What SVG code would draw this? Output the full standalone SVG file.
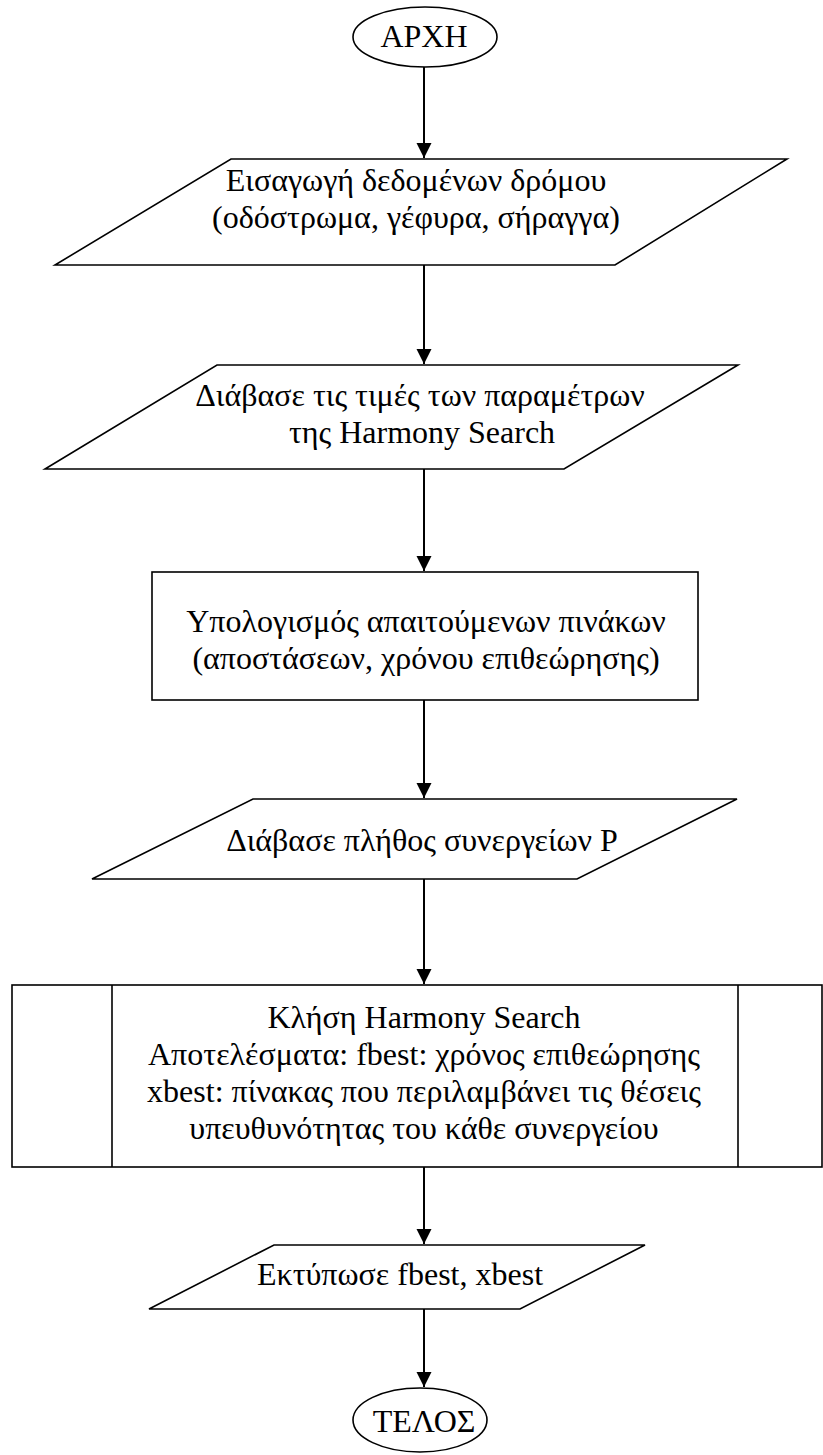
<svg xmlns="http://www.w3.org/2000/svg" width="823" height="1455" viewBox="0 0 823 1455">
<style>
.s{fill:#fff;stroke:#000;stroke-width:1.6}
.t{font-family:"Liberation Serif","Times New Roman",serif;font-size:32px;fill:#000;text-anchor:middle}
.c{stroke:#000;stroke-width:2;fill:none}
</style>
<defs>
<marker id="ah" markerUnits="userSpaceOnUse" markerWidth="16" markerHeight="16" viewBox="0 0 16 16" refX="15" refY="8" orient="auto">
<path d="M0,0.5 L15,8 L0,15.5 Z" fill="#000"/>
</marker>
</defs>
<g id="start">
<ellipse class="s" cx="425" cy="37" rx="72" ry="30"/>
<text class="t" x="424" y="47">ΑΡΧΗ</text>
</g>
<g id="input-road">
<polygon class="s" points="231,159 787,159 615,265 55,265"/>
<text class="t" x="416" y="191">Εισαγωγή δεδομένων δρόμου</text>
<text class="t" x="416" y="228">(οδόστρωμα, γέφυρα, σήραγγα)</text>
</g>
<g id="read-params">
<polygon class="s" points="217,365 738,365 564,469 45,469"/>
<text class="t" x="420" y="406">Διάβασε τις τιμές των παραμέτρων</text>
<text class="t" x="422" y="443">της Harmony Search</text>
</g>
<g id="compute">
<rect class="s" x="152" y="572" width="546" height="128"/>
<text class="t" x="426" y="632">Υπολογισμός απαιτούμενων πινάκων</text>
<text class="t" x="426" y="669">(αποστάσεων, χρόνου επιθεώρησης)</text>
</g>
<g id="read-p">
<polygon class="s" points="253,799 737,799 577,879 92,879"/>
<text class="t" x="422" y="851">Διάβασε πλήθος συνεργείων P</text>
</g>
<g id="call-hs">
<rect class="s" x="12" y="985" width="810" height="182"/>
<line class="s" x1="112" y1="985" x2="112" y2="1167"/>
<line class="s" x1="738" y1="985" x2="738" y2="1167"/>
<text class="t" x="424" y="1028">Κλήση Harmony Search</text>
<text class="t" x="424" y="1065">Αποτελέσματα: fbest: χρόνος επιθεώρησης</text>
<text class="t" x="424" y="1102">xbest: πίνακας που περιλαμβάνει τις θέσεις</text>
<text class="t" x="424" y="1139">υπευθυνότητας του κάθε συνεργείου</text>
</g>
<g id="print">
<polygon class="s" points="274,1245 645,1245 520,1309 149,1309"/>
<text class="t" x="400" y="1285">Εκτύπωσε fbest, xbest</text>
</g>
<g id="end">
<ellipse class="s" cx="420" cy="1420" rx="67" ry="32"/>
<text class="t" x="424" y="1432">ΤΕΛΟΣ</text>
</g>
<g id="connectors">
<line class="c" x1="424" y1="67" x2="424" y2="158" marker-end="url(#ah)"/>
<line class="c" x1="424" y1="265" x2="424" y2="364" marker-end="url(#ah)"/>
<line class="c" x1="424" y1="469" x2="424" y2="571" marker-end="url(#ah)"/>
<line class="c" x1="424" y1="700" x2="424" y2="798" marker-end="url(#ah)"/>
<line class="c" x1="424" y1="879" x2="424" y2="984" marker-end="url(#ah)"/>
<line class="c" x1="424" y1="1167" x2="424" y2="1244" marker-end="url(#ah)"/>
<line class="c" x1="424" y1="1309" x2="424" y2="1387" marker-end="url(#ah)"/>
</g>
</svg>
